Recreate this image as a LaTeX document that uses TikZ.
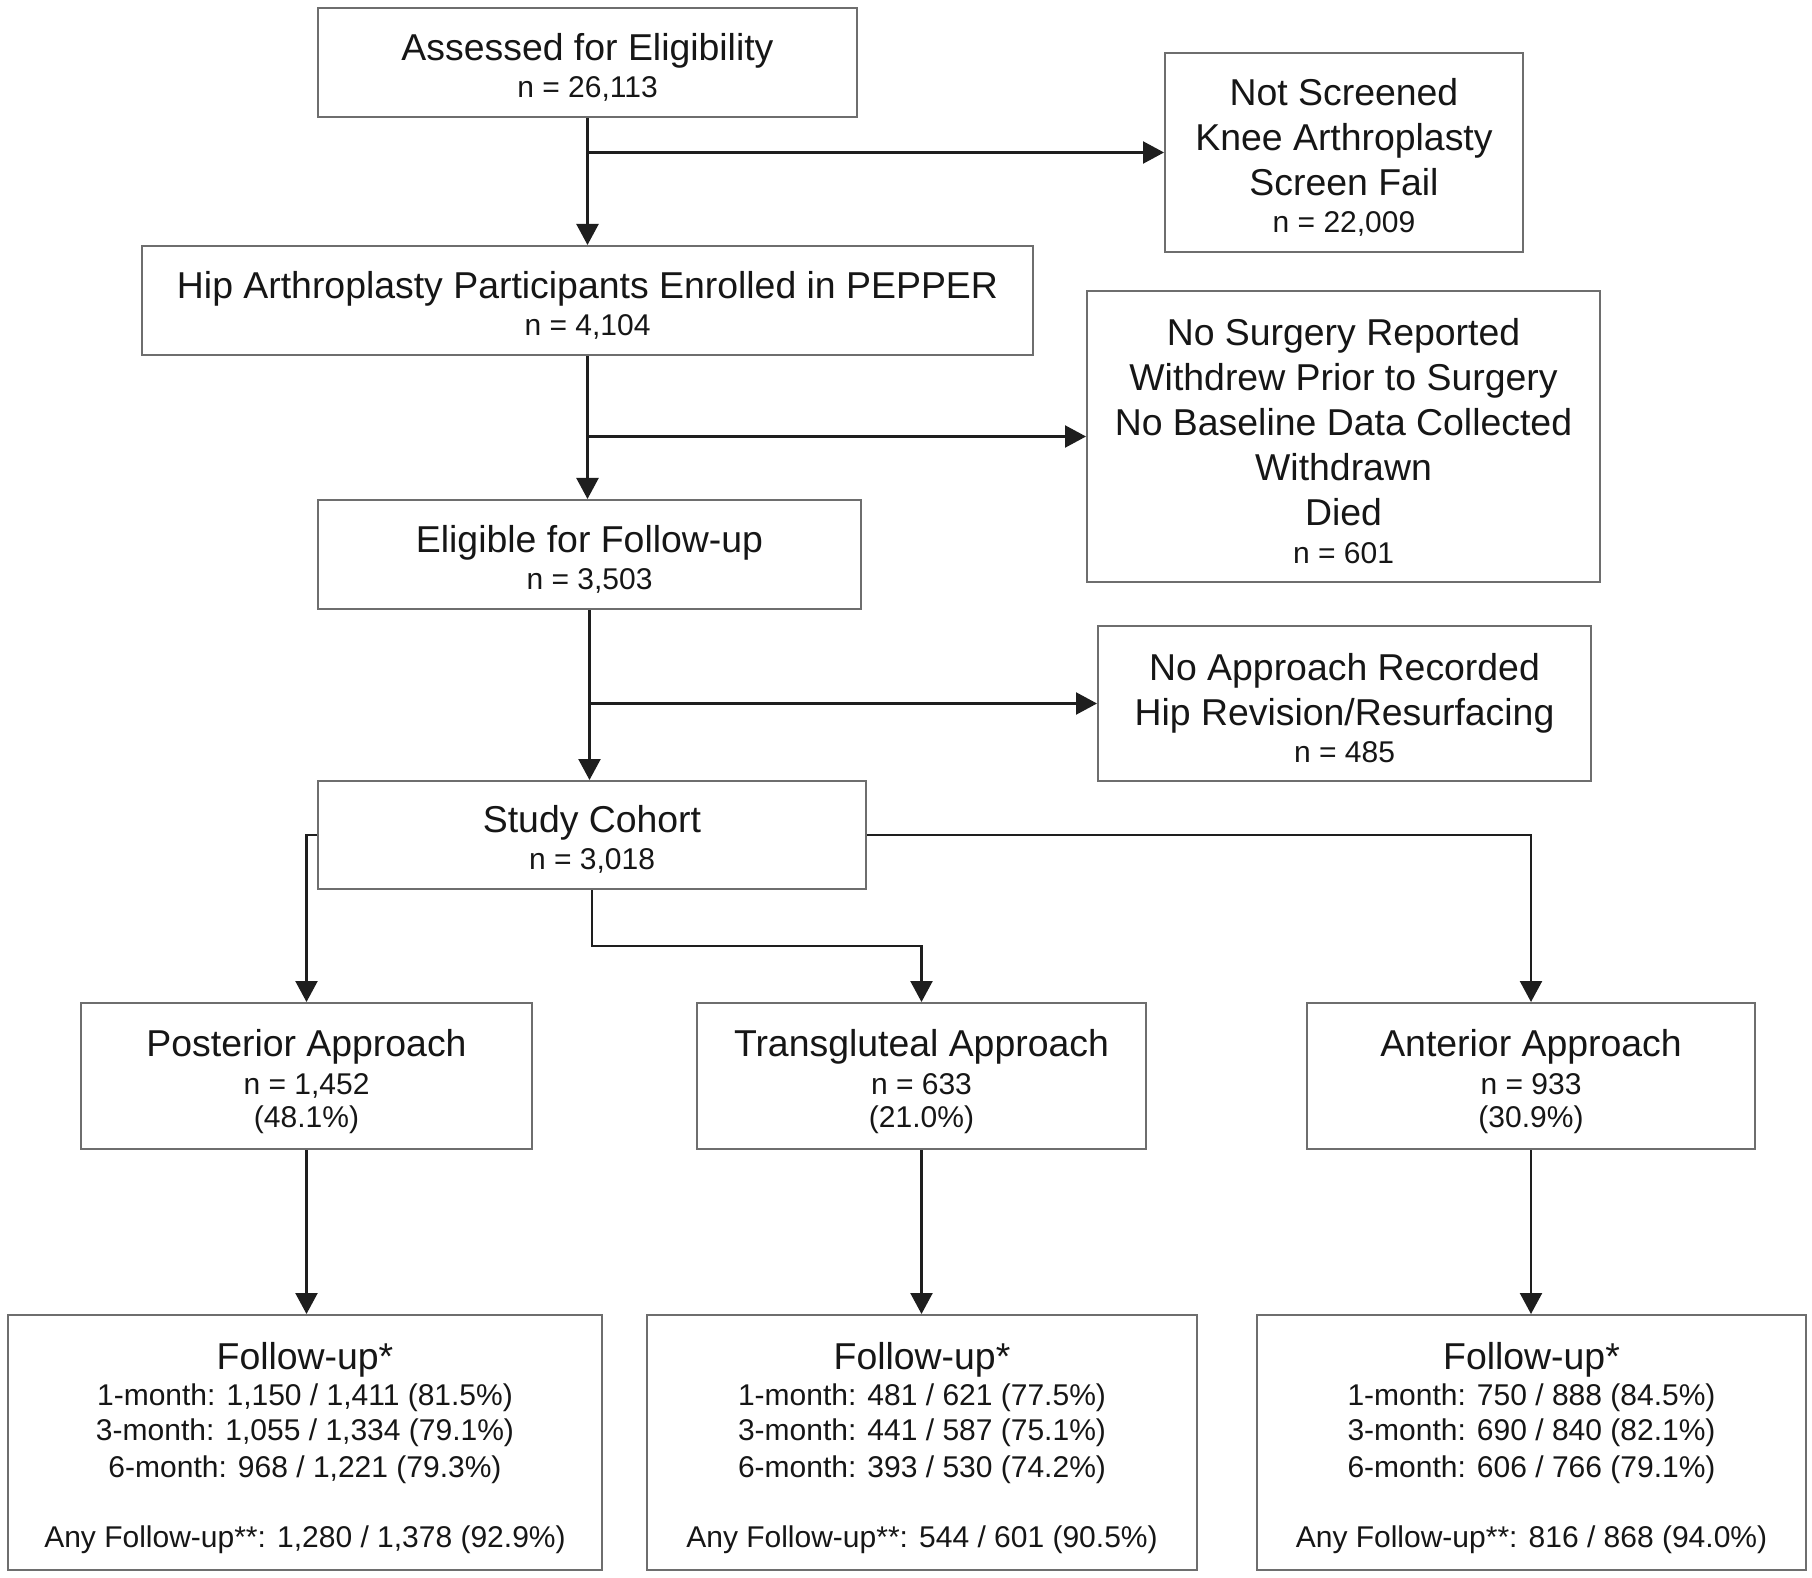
\documentclass[tikz,border=0pt]{standalone}
\usepackage{fontspec}
\setmainfont{Liberation Sans}
\usetikzlibrary{arrows.meta,calc}
\definecolor{boxgray}{HTML}{6E6E6E}
\definecolor{linecol}{HTML}{1E1E1E}
\definecolor{txtcol}{HTML}{161616}
\newcommand\ttl[1]{{\fontsize{18.7}{16.5}\selectfont #1}}
\lineskiplimit=-50pt\relax
\tikzset{
  box/.style={draw=boxgray, line width=1pt, fill=white, align=center, inner sep=0pt,
    text=txtcol, font=\fontsize{15}{16.5}\selectfont},
  conn/.style={line width=1.15pt, draw=linecol},
  arr/.style={conn, -{Triangle[length=10.5pt,width=11pt]}},
}
\begin{document}
\begin{tikzpicture}[x=0.5pt,y=-0.5pt]
\lineskiplimit=-50pt\relax
\fill[white] (0,0) rectangle (1812,1578);
\useasboundingbox (0,0) rectangle (1812,1578);

\node[box, minimum width=269.5pt, minimum height=54.5pt] (assess) at (587.5,62.5)
  {\\[1.5pt]\ttl{Assessed for Eligibility}\\[2pt] n = 26,113};
\node[box, minimum width=179pt, minimum height=99.5pt] (notscr) at (1344,152.5)
  {\\[1.5pt]\ttl{Not Screened}\\[6pt]\ttl{Knee Arthroplasty}\\[6pt]\ttl{Screen Fail}\\[2pt] n = 22,009};
\node[box, minimum width=445.5pt, minimum height=54.5pt] (hip) at (587.5,300.5)
  {\\[1.5pt]\ttl{Hip Arthroplasty Participants Enrolled in PEPPER}\\[2pt] n = 4,104};
\node[box, minimum width=256.5pt, minimum height=145.5pt] (nosurg) at (1343.5,436.5)
  {\\[1.5pt]\ttl{No Surgery Reported}\\[6pt]\ttl{Withdrew Prior to Surgery}\\[6pt]\ttl{No Baseline Data Collected}\\[6pt]\ttl{Withdrawn}\\[6pt]\ttl{Died}\\[2.2pt] n = 601};
\node[box, minimum width=271.5pt, minimum height=54.5pt] (elig) at (589.5,554.5)
  {\\[1.5pt]\ttl{Eligible for Follow-up}\\[2pt] n = 3,503};
\node[box, minimum width=246.5pt, minimum height=77.5pt] (noappr) at (1344.5,703.5)
  {\\[1.5pt]\ttl{No Approach Recorded}\\[6pt]\ttl{Hip Revision/Resurfacing}\\[2pt] n = 485};
\node[box, minimum width=274pt, minimum height=54pt] (study) at (592,835)
  {\\[1.5pt]\ttl{Study Cohort}\\[2pt] n = 3,018};

\node[box, minimum width=225.5pt, minimum height=73pt] (post) at (306.5,1076)
  {\\[3pt]\ttl{Posterior Approach}\\[2.5pt] n = 1,452\\ (48.1\%)};
\node[box, minimum width=224.5pt, minimum height=73pt] (trans) at (921.5,1076)
  {\\[3pt]\ttl{Transgluteal Approach}\\[2.5pt] n = 633\\ (21.0\%)};
\node[box, minimum width=224pt, minimum height=73pt] (ant) at (1531,1076)
  {\\[3pt]\ttl{Anterior Approach}\\[2.5pt] n = 933\\ (30.9\%)};

\node[box, minimum width=297pt, minimum height=127.5pt] (fupost) at (305,1442.5)
  {\\[2.4pt]\ttl{Follow-up*}\\[1.6pt]
   1-month: 1,150 / 1,411 (81.5\%)\\[0.95pt]
   3-month: 1,055 / 1,334 (79.1\%)\\[2.25pt]
   6-month: 968 / 1,221 (79.3\%)\\[18.4pt]
   Any Follow-up**: 1,280 / 1,378 (92.9\%)};
\node[box, minimum width=275pt, minimum height=127.5pt] (futrans) at (922,1442.5)
  {\\[2.4pt]\ttl{Follow-up*}\\[1.6pt]
   1-month: 481 / 621 (77.5\%)\\[0.95pt]
   3-month: 441 / 587 (75.1\%)\\[2.25pt]
   6-month: 393 / 530 (74.2\%)\\[18.4pt]
   Any Follow-up**: 544 / 601 (90.5\%)};
\node[box, minimum width=274.5pt, minimum height=127.5pt] (fuant) at (1531.5,1442.5)
  {\\[2.4pt]\ttl{Follow-up*}\\[1.6pt]
   1-month: 750 / 888 (84.5\%)\\[0.95pt]
   3-month: 690 / 840 (82.1\%)\\[2.25pt]
   6-month: 606 / 766 (79.1\%)\\[18.4pt]
   Any Follow-up**: 816 / 868 (94.0\%)};

% trunk
\draw[arr] (assess.south) -- (assess.south |- hip.north);
\draw[arr] (hip.south) -- (hip.south |- elig.north);
\draw[arr] (elig.south) -- (elig.south |- study.north);
% exclusions
\draw[arr] (assess.south |- notscr.west) -- (notscr.west);
\draw[arr] (hip.south |- nosurg.west) -- (nosurg.west);
\draw[arr] (elig.south |- noappr.west) -- (noappr.west);
% split to approaches
\coordinate (tj) at ($(study.south)!0.5!(study.south |- trans.north)$);
\draw[arr] (study.west) -| (post.north);
\draw[arr] (study.south) -- (tj) -| (trans.north);
\draw[arr] (study.east) -| (ant.north);
% follow-up
\draw[arr] (post.south) -- (post.south |- fupost.north);
\draw[arr] (trans.south) -- (trans.south |- futrans.north);
\draw[arr] (ant.south) -- (ant.south |- fuant.north);
\end{tikzpicture}
\end{document}
